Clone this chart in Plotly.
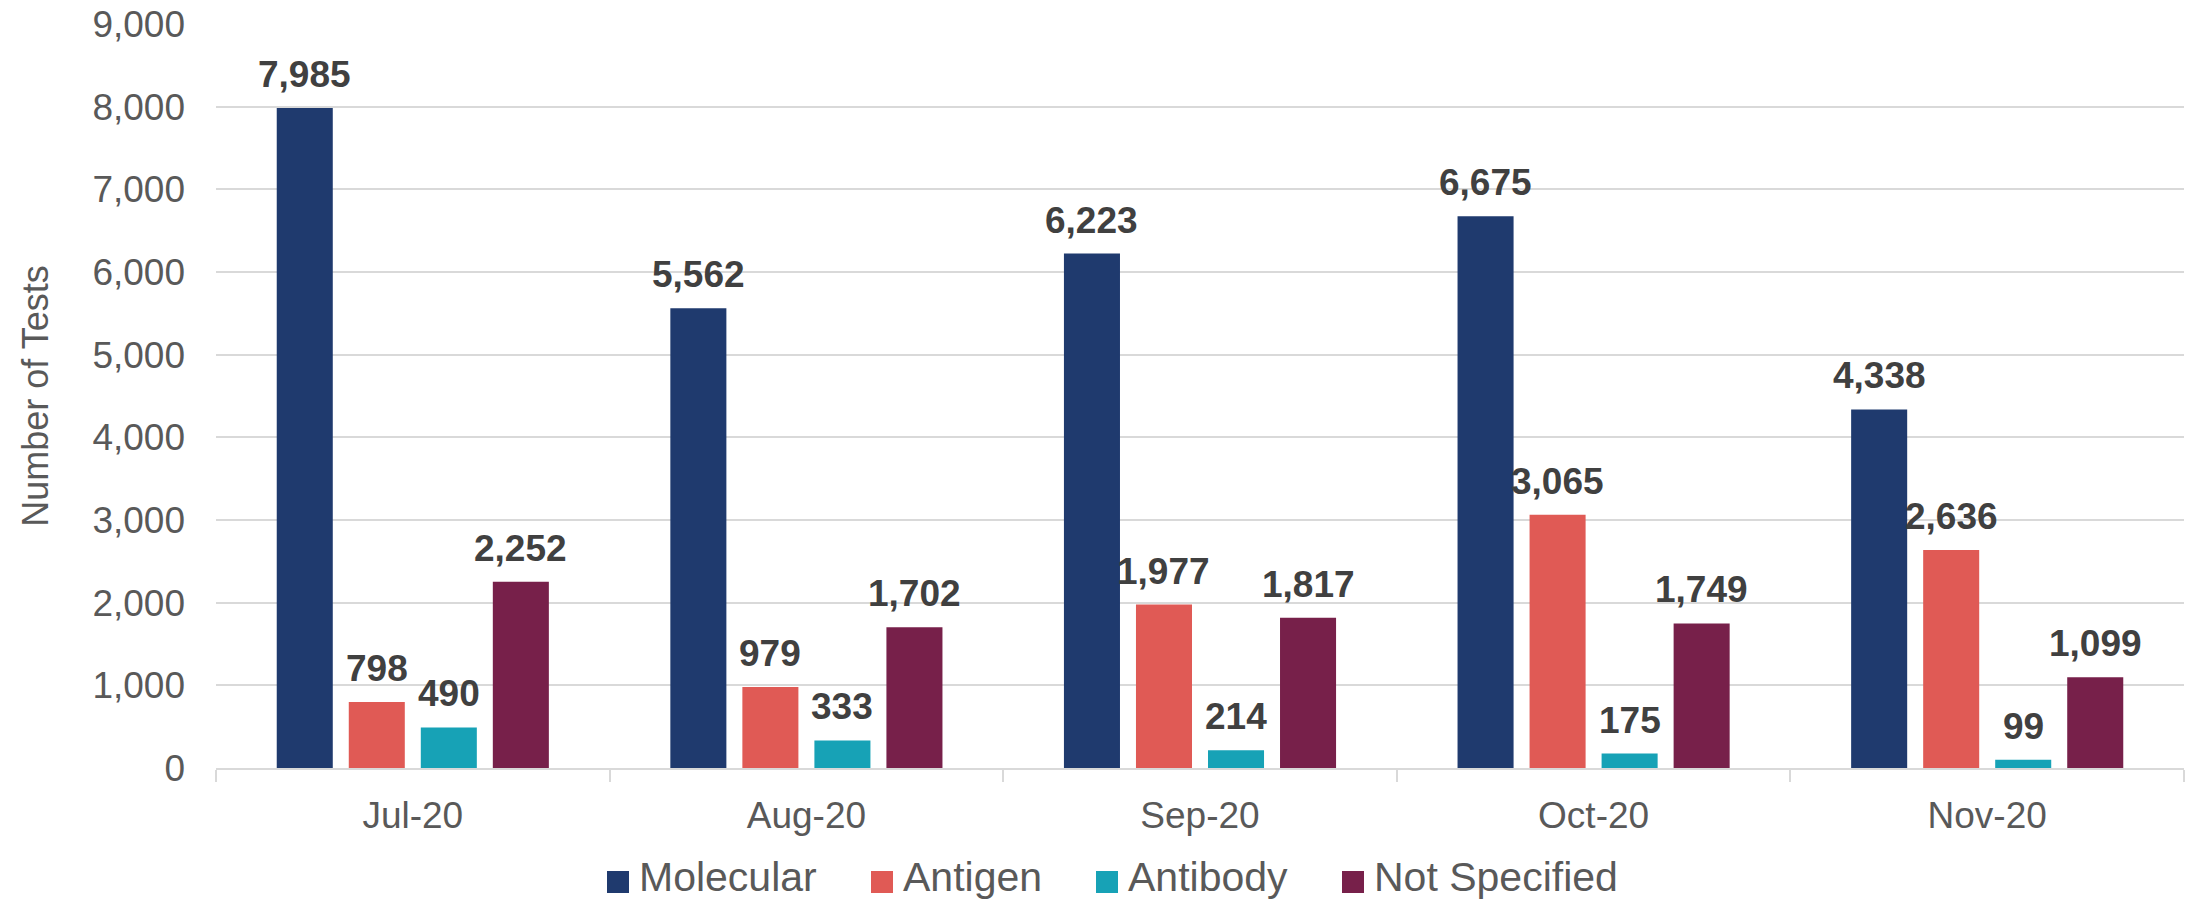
import plotly.graph_objects as go

# Monthly test counts by test type
months = ["Jul-20", "Aug-20", "Sep-20", "Oct-20", "Nov-20"]
series_names = ["Molecular", "Antigen", "Antibody", "Not Specified"]
molecular = [7985, 5562, 6223, 6675, 4338]
antigen = [798, 979, 1977, 3065, 2636]
antibody = [490, 333, 214, 175, 99]
not_specified = [2252, 1702, 1817, 1749, 1099]
y_ticks = [0, 1000, 2000, 3000, 4000, 5000, 6000, 7000, 8000, 9000]

series_values = [molecular, antigen, antibody, not_specified]
colors = ["#1F3A6E", "#E05A55", "#17A2B6", "#77204A"]

FONT = "Liberation Sans, Arial, sans-serif"
GRID = "#D9D9D9"
TEXT = "#595959"

W, H = 2191, 904
M_L, M_R, M_T, M_B = 216, 7, 24, 136
PW, PH = W - M_L - M_R, H - M_T - M_B
BARGAP, GROUPGAP = 0.268, 0.222

fig = go.Figure()
for name, vals, col in zip(series_names, series_values, colors):
    fig.add_trace(go.Bar(
        x=months, y=vals, name=name,
        marker=dict(color=col, line=dict(width=0)),
        showlegend=False,
    ))

# Value labels above each bar, shifted sideways to the bar's slot in its group
n = len(series_names)
slot_px = PW / len(months) * (1 - BARGAP) / n
for i, vals in enumerate(series_values):
    for m, v in zip(months, vals):
        fig.add_annotation(
            x=m, y=v, xref="x", yref="y", text=f"{v:,}", showarrow=False,
            xanchor="center", yanchor="bottom",
            xshift=(i - (n - 1) / 2) * slot_px, yshift=11,
            font=dict(family=FONT, size=37, color="#404040", weight="bold"),
        )

# Legend drawn as colored squares with labels below the plot
legend_x = [607, 871, 1096, 1342]
sq = 22
sq_top, sq_bot = 871, 893
label_bottom = 902
for name, col, lx in zip(series_names, colors, legend_x):
    fig.add_shape(type="rect", xref="paper", yref="paper",
                  x0=(lx - M_L) / PW, x1=(lx + sq - M_L) / PW,
                  y0=(M_T + PH - sq_bot) / PH, y1=(M_T + PH - sq_top) / PH,
                  fillcolor=col, line=dict(width=0))
    fig.add_annotation(text=name, xref="paper", yref="paper",
                       x=(lx + sq + 8 - M_L) / PW,
                       y=(M_T + PH - label_bottom) / PH,
                       xanchor="left", yanchor="bottom", showarrow=False,
                       font=dict(family=FONT, size=41, color=TEXT))

fig.update_layout(
    width=W, height=H,
    margin=dict(l=M_L, r=M_R, t=M_T, b=M_B, autoexpand=False),
    paper_bgcolor="white", plot_bgcolor="white",
    barmode="group", bargap=BARGAP, bargroupgap=GROUPGAP,
    showlegend=False,
    font=dict(family=FONT, color=TEXT),
)
fig.update_xaxes(
    type="category", showgrid=False, showline=True, linecolor=GRID, linewidth=2,
    ticks="outside", tickson="boundaries", ticklen=12, tickcolor=GRID, tickwidth=2,
    tickfont=dict(family=FONT, size=37, color=TEXT), ticklabelstandoff=14,
)
fig.update_yaxes(
    range=[0, 9000], tickvals=y_ticks, tickformat=",",
    showgrid=True, gridcolor=GRID, gridwidth=2, zeroline=False, showline=False,
    tickfont=dict(family=FONT, size=37, color=TEXT), ticks="", ticklabelstandoff=30,
    title=dict(text="Number of Tests", font=dict(family=FONT, size=36, color=TEXT), standoff=32),
)

fig.write_html("out.html")
